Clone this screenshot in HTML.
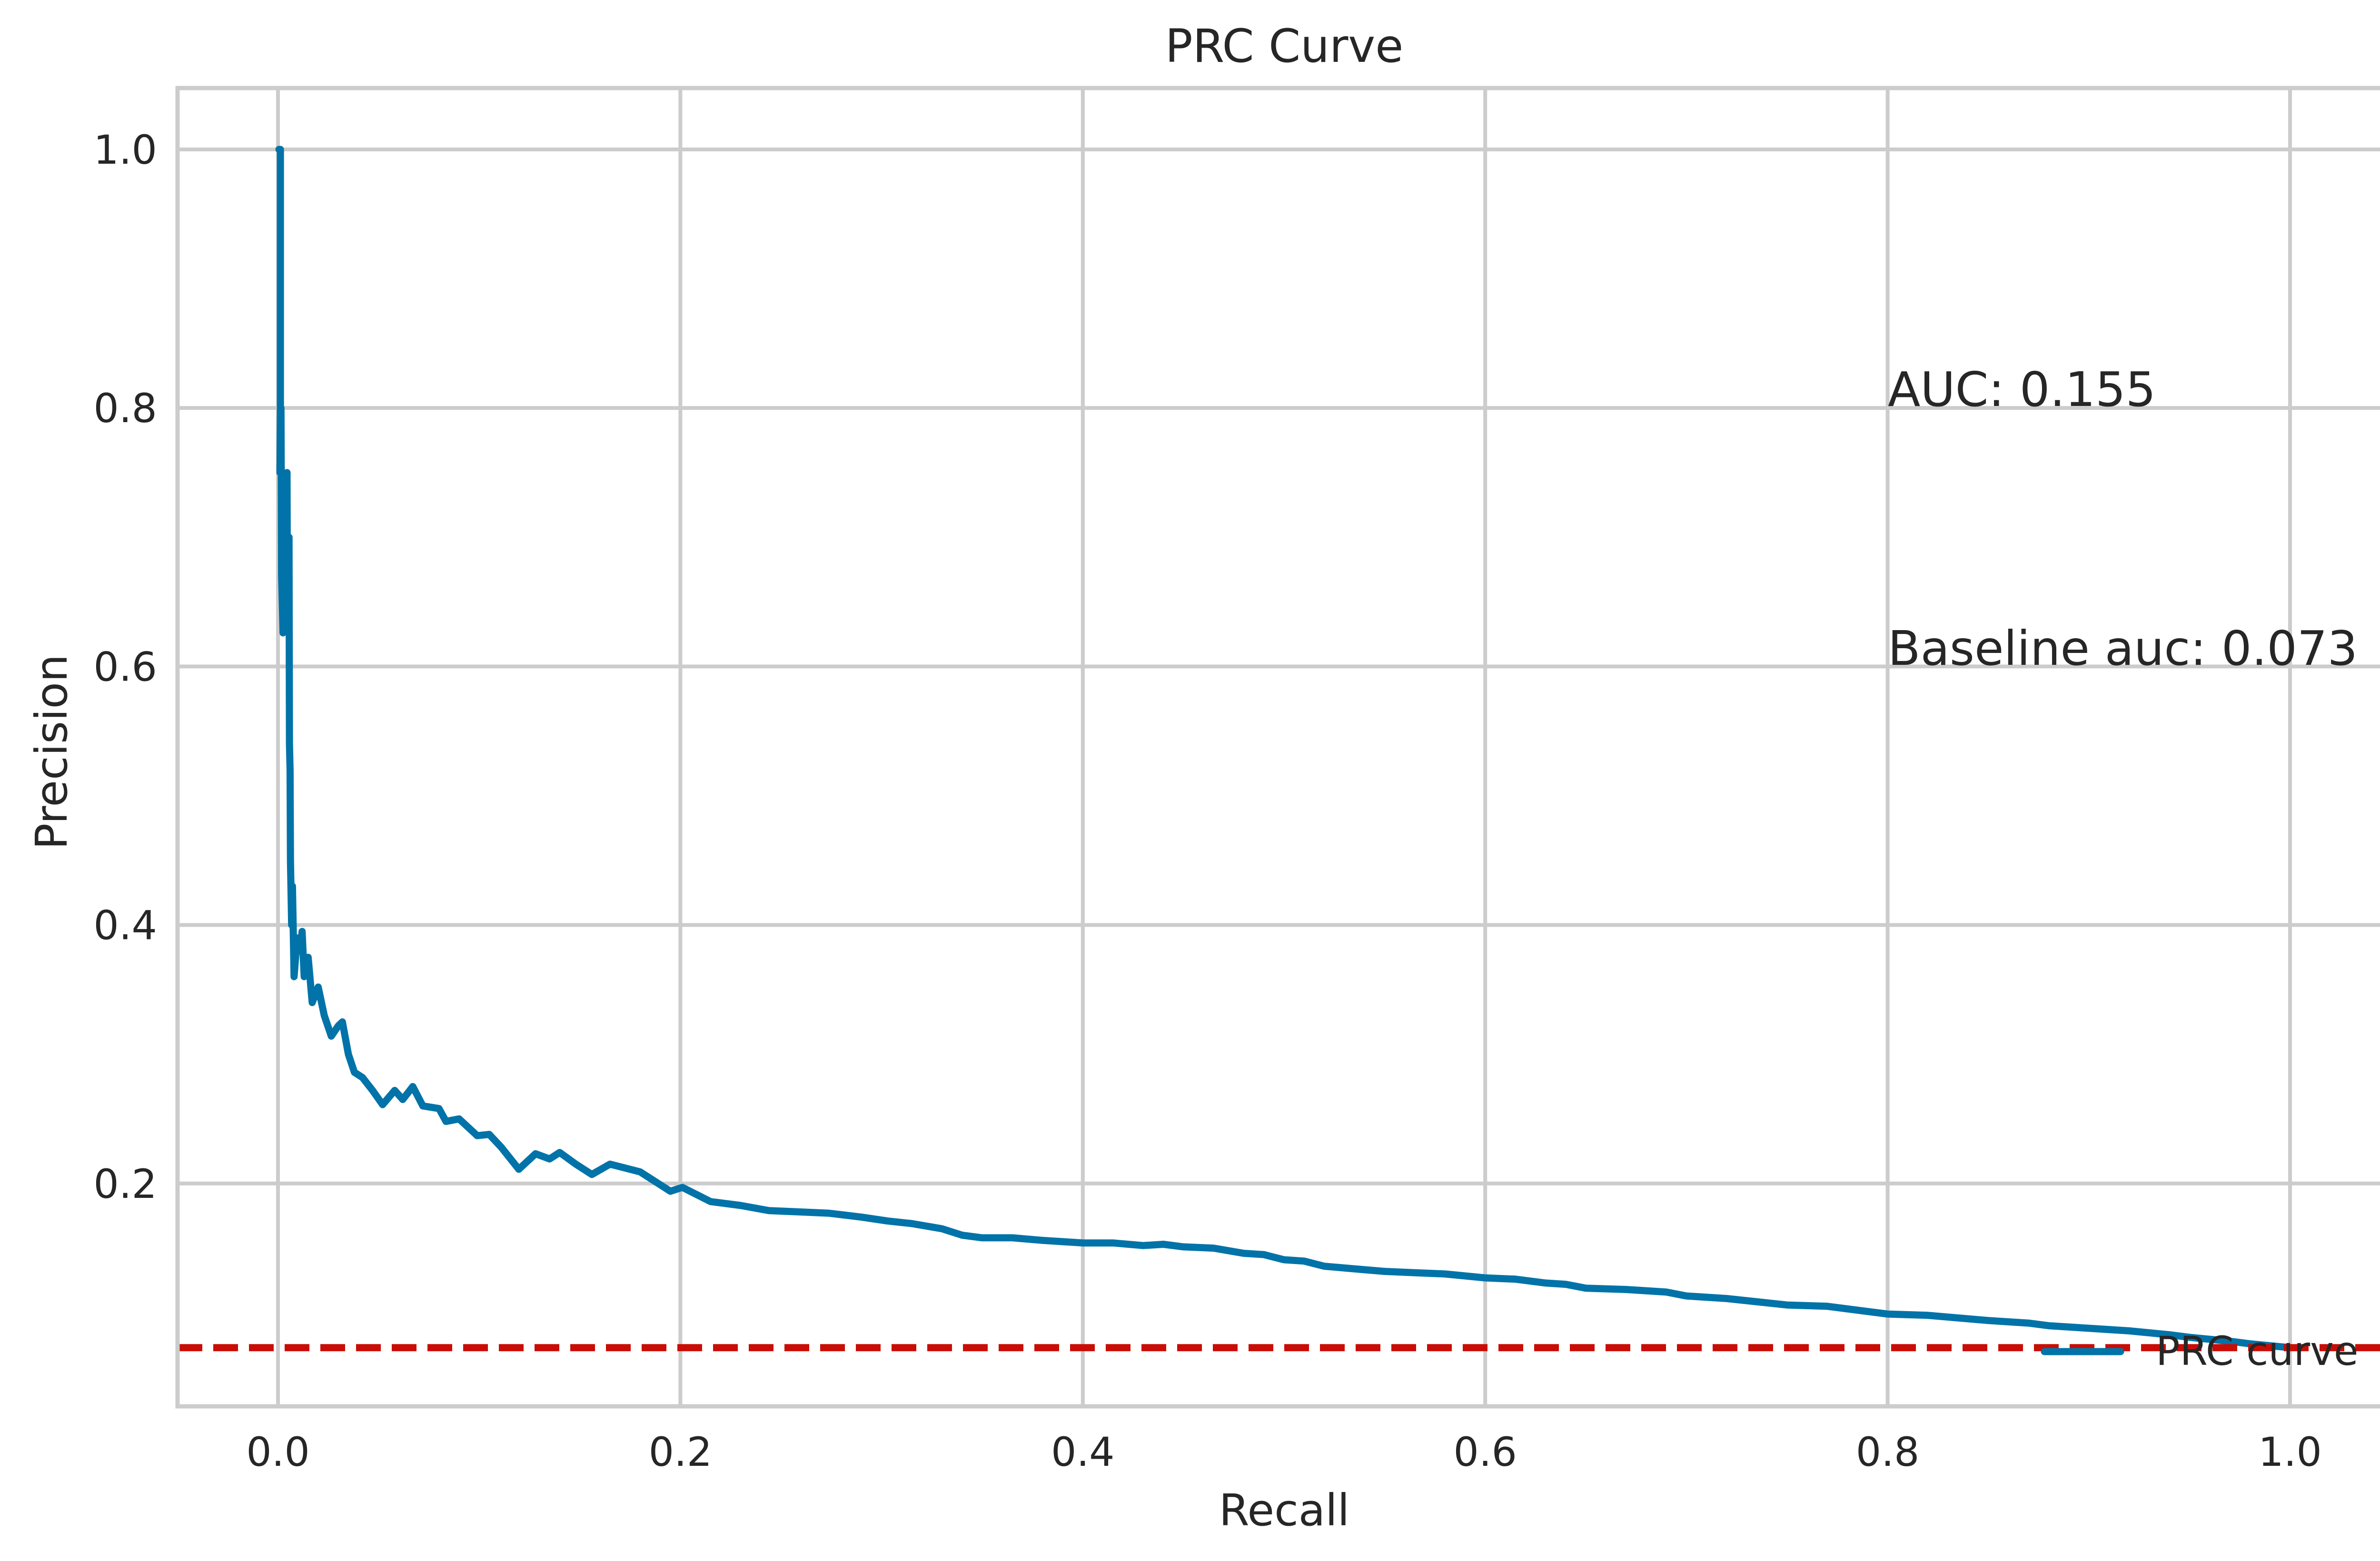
<!DOCTYPE html>
<html><head><meta charset="utf-8"><title>PRC Curve</title>
<style>
html,body{margin:0;padding:0;background:#fff;width:5084px;height:3280px;overflow:hidden;}
svg{display:block;font-family:"DejaVu Sans","Liberation Sans",sans-serif;}
</style></head>
<body>
<svg id="chart" width="5084" height="3280" viewBox="0 0 5084 3280" xmlns="http://www.w3.org/2000/svg">
<rect x="0" y="0" width="5084" height="3280" fill="#ffffff"/>
<g id="grid"></g>
<g id="marks"></g>
<rect x="373" y="185" width="4650" height="2770" fill="none" stroke="#cccccc" stroke-width="9"/>
<g id="ticks"></g>
<text x="2698" y="130" font-size="96" text-anchor="middle" fill="#262626">PRC Curve</text>
<text x="2698" y="3205" font-size="92" text-anchor="middle" fill="#262626">Recall</text>
<text x="0" y="0" font-size="92" text-anchor="middle" fill="#262626" transform="translate(140,1580) rotate(-90)">Precision</text>
<text x="3966" y="853" font-size="100" fill="#262626">AUC: 0.155</text>
<text x="3966" y="1397" font-size="100" fill="#262626">Baseline auc: 0.073</text>
<g>
<line x1="4295" y1="2840" x2="4455" y2="2840" stroke="#0173a8" stroke-width="15" stroke-linecap="round"/>
<text x="4529" y="2868" font-size="84" fill="#262626">PRC curve</text>
</g>
</svg>
<script>
const recall = [0.0005,0.0012,0.0012,0.0010,0.0015,0.0018,0.0025,0.0035,0.0045,0.0047,0.0055,0.0057,0.0060,0.0062,0.0068,0.0072,0.0080,0.0095,0.0110,0.0120,0.0130,0.0150,0.0170,0.0200,0.0230,0.0265,0.0300,0.0320,0.0350,0.0380,0.0420,0.0470,0.0520,0.0580,0.0620,0.0670,0.0720,0.0800,0.0835,0.0900,0.0990,0.1050,0.1110,0.1197,0.1280,0.1350,0.1400,0.1480,0.1560,0.1650,0.1800,0.1950,0.2010,0.2150,0.2300,0.2440,0.2600,0.2740,0.2900,0.3030,0.3150,0.33,0.34,0.35,0.365,0.38,0.39,0.40,0.415,0.43,0.44,0.45,0.465,0.48,0.49,0.50,0.51,0.52,0.535,0.55,0.565,0.58,0.60,0.615,0.63,0.64,0.65,0.67,0.69,0.70,0.72,0.75,0.77,0.80,0.82,0.85,0.87,0.88,0.90,0.92,0.94,0.95,0.97,0.98,1.0];
const precision = [1.0,1.0,0.80,0.75,0.80,0.67,0.626,0.74,0.75,0.63,0.70,0.54,0.52,0.45,0.40,0.43,0.36,0.39,0.38,0.395,0.36,0.375,0.34,0.352,0.33,0.314,0.322,0.325,0.30,0.286,0.282,0.272,0.261,0.272,0.265,0.275,0.26,0.258,0.248,0.25,0.237,0.238,0.228,0.211,0.223,0.219,0.224,0.215,0.207,0.215,0.209,0.194,0.197,0.186,0.183,0.179,0.178,0.177,0.174,0.171,0.169,0.165,0.160,0.158,0.158,0.156,0.155,0.154,0.154,0.152,0.153,0.151,0.150,0.146,0.145,0.141,0.140,0.136,0.134,0.132,0.131,0.130,0.127,0.126,0.123,0.122,0.119,0.118,0.116,0.113,0.111,0.106,0.105,0.099,0.098,0.094,0.092,0.090,0.088,0.086,0.083,0.081,0.078,0.076,0.073];
const baseline = [0.073];
const xTicks = [0.0,0.2,0.4,0.6,0.8,1.0];
const yTicks = [0.2,0.4,0.6,0.8,1.0];
const xTickLabels = ["0.0","0.2","0.4","0.6","0.8","1.0"];
const yTickLabels = ["0.2","0.4","0.6","0.8","1.0"];

const NS = "http://www.w3.org/2000/svg";
const L = 373, R = 5022, T = 185, B = 2955;
function xs(v){ return 584 + v * 4227; }
function ys(v){ return 3030 - v * 2716; }
function mk(tag, attrs, parent){
  const el = document.createElementNS(NS, tag);
  for (const k in attrs) el.setAttribute(k, attrs[k]);
  parent.appendChild(el);
  return el;
}
const grid = document.getElementById('grid');
const ticks = document.getElementById('ticks');
const marks = document.getElementById('marks');

xTicks.forEach((v, i) => {
  const g = mk('line', {x1: xs(v), x2: xs(v), y1: T, y2: B, stroke: '#cccccc', 'stroke-width': 8}, grid);
  
  
  const t = mk('text', {x: xs(v), y: 3080, 'font-size': 84, 'text-anchor': 'middle', fill: '#262626'}, ticks);
  t.textContent = xTickLabels[i];
  
  
});
yTicks.forEach((v, i) => {
  const g = mk('line', {x1: L, x2: R, y1: ys(v), y2: ys(v), stroke: '#cccccc', 'stroke-width': 8}, grid);
  
  
  const t = mk('text', {x: 330, y: ys(v) + 30, 'font-size': 84, 'text-anchor': 'end', fill: '#262626'}, ticks);
  t.textContent = yTickLabels[i];
  
  
});

const pts = recall.map((r, i) => xs(r).toFixed(1) + ',' + ys(precision[i]).toFixed(1)).join(' ');
const curve = mk('polyline', {points: pts, fill: 'none', stroke: '#0173a8', 'stroke-width': 15, 'stroke-linejoin': 'round', 'stroke-linecap': 'round'}, marks);



const base = mk('line', {x1: L, x2: R, y1: ys(baseline[0]), y2: ys(baseline[0]), stroke: '#c90d06', 'stroke-width': 15, 'stroke-dasharray': '52 23'}, marks);


</script>
</body></html>
